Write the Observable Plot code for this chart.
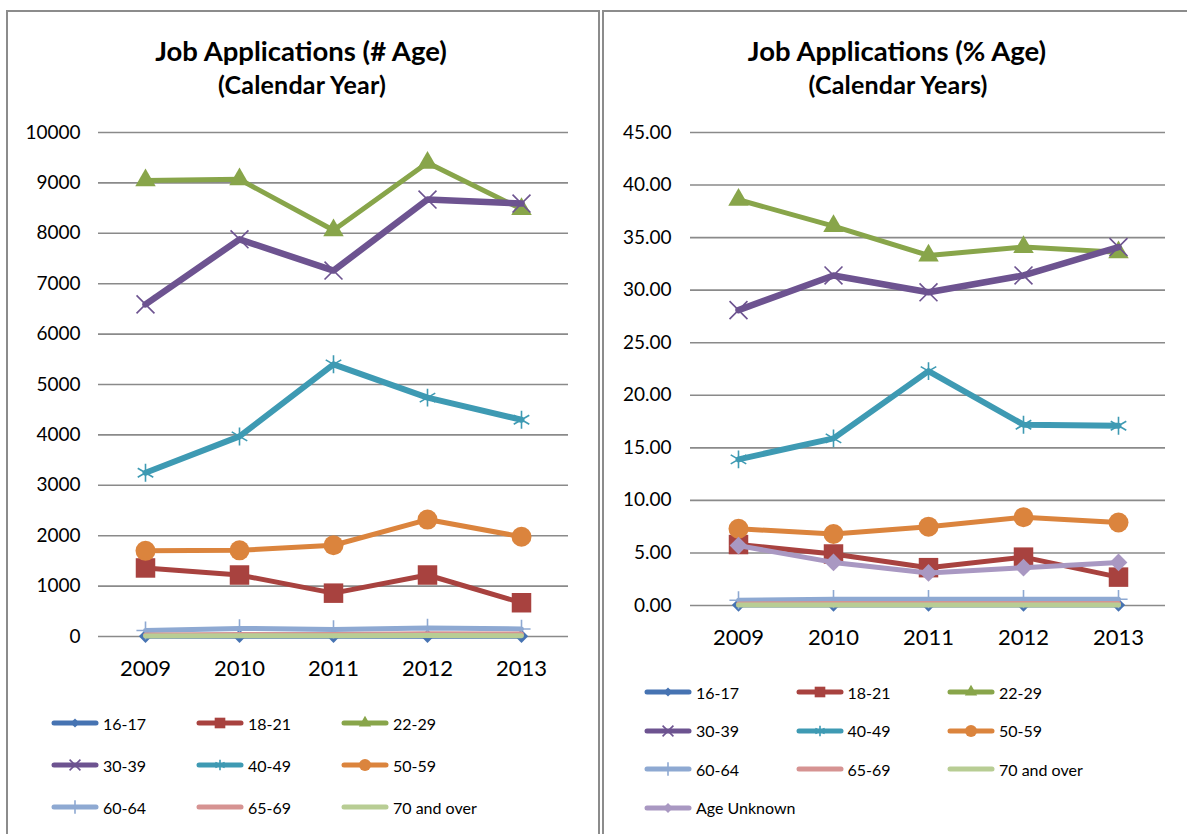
<!DOCTYPE html>
<html>
<head>
<meta charset="utf-8">
<script src="https://cdn.jsdelivr.net/npm/d3@7"></script>
<script src="https://cdn.jsdelivr.net/npm/@observablehq/plot@0.6"></script>
<style>
  html, body { margin: 0; padding: 0; background: #fff; }
  body { width: 1187px; height: 834px; position: relative; overflow: hidden; font-family: Lato, "Open Sans", sans-serif; color: #000; }
  .panel { position: absolute; box-sizing: border-box; border: 2px solid #8c8c8c; background: #fff; }
  .title { position: absolute; font-weight: bold; text-align: center; white-space: nowrap; transform: translateX(-50%); line-height: 1; }
  .chart { position: absolute; }
  .legend { position: absolute; display: grid; font-size: 16px; }
  .legend .item { display: flex; align-items: center; white-space: nowrap; }
  .legend svg { display: block; margin-right: 4px; }
</style>
</head>
<body>
<div class="panel" style="left:6px; top:10px; width:594px; height:900px;"></div>
<div class="panel" style="left:602px; top:10px; width:640px; height:900px;"></div>

<div class="title" style="left:301px; top:37px; font-size:27.5px;">Job Applications (# Age)</div>
<div class="title" style="left:302px; top:72px; font-size:25px; letter-spacing:0.2px;">(Calendar Year)</div>
<div class="title" style="left:897px; top:37px; font-size:27.5px;">Job Applications (% Age)</div>
<div class="title" style="left:898px; top:72px; font-size:25px; letter-spacing:0.2px;">(Calendar Years)</div>

<div id="leftChart" class="chart" style="left:8px; top:100px;"></div>
<div id="rightChart" class="chart" style="left:604px; top:100px;"></div>
<div id="leftLegend" class="legend"></div>
<div id="rightLegend" class="legend"></div>

<script>
// ---------- DATA ----------
const years = ["2009", "2010", "2011", "2012", "2013"];
const seriesNames = ["16-17", "18-21", "22-29", "30-39", "40-49", "50-59", "60-64", "65-69", "70 and over", "Age Unknown"];

// Number of applications by age group
const cnt_16_17   = [5, 5, 5, 5, 5];
const cnt_18_21   = [1360, 1220, 860, 1220, 670];
const cnt_22_29   = [9050, 9070, 8060, 9400, 8480];
const cnt_30_39   = [6590, 7880, 7260, 8670, 8590];
const cnt_40_49   = [3250, 3970, 5400, 4740, 4300];
const cnt_50_59   = [1700, 1710, 1810, 2320, 1980];
const cnt_60_64   = [120, 160, 140, 170, 150];
const cnt_65_69   = [30, 40, 40, 55, 50];
const cnt_70_over = [10, 15, 15, 20, 15];

// Percentage of applications by age group
const pct_16_17   = [0.04, 0.04, 0.04, 0.04, 0.04];
const pct_18_21   = [5.8, 4.9, 3.6, 4.6, 2.7];
const pct_22_29   = [38.6, 36.1, 33.3, 34.1, 33.6];
const pct_30_39   = [28.1, 31.4, 29.8, 31.4, 34.1];
const pct_40_49   = [13.9, 15.9, 22.3, 17.2, 17.1];
const pct_50_59   = [7.3, 6.8, 7.5, 8.4, 7.9];
const pct_60_64   = [0.5, 0.6, 0.6, 0.6, 0.6];
const pct_65_69   = [0.15, 0.2, 0.2, 0.2, 0.2];
const pct_70_over = [0.05, 0.05, 0.05, 0.05, 0.05];
const pct_unknown = [5.7, 4.1, 3.1, 3.6, 4.1];

// Tick values
const countTicks = [0, 1000, 2000, 3000, 4000, 5000, 6000, 7000, 8000, 9000, 10000];
const pctTicks = [0, 5, 10, 15, 20, 25, 30, 35, 40, 45];

// ---------- STYLES ----------
const styles = {
  "16-17":       {color: "#4673B2", symbol: "diamond2", r: 6,   lr: 4,   filled: true,  w: 5},
  "18-21":       {color: "#A8423F", symbol: "square",   r: 11,  lr: 6,   filled: true,  w: 5},
  "22-29":       {color: "#88A54A", symbol: "triangle", r: 7.6, lr: 4.6, filled: true,  w: 5},
  "30-39":       {color: "#6D5390", symbol: "times",    r: 8.2, lr: 5,   filled: false, w: 6.5},
  "40-49":       {color: "#3E9AB3", symbol: "asterisk", r: 8.5, lr: 5,   filled: false, w: 6},
  "50-59":       {color: "#DB843D", symbol: "circle",   r: 10,  lr: 6,   filled: true,  w: 5},
  "60-64":       {color: "#8EA9D2", symbol: "plus",     r: 5.9, lr: 4.4, filled: false, w: 5},
  "65-69":       {color: "#D69392", symbol: null,       r: 0,   lr: 0,   filled: true,  w: 5},
  "70 and over": {color: "#B8CD94", symbol: null,       r: 0,   lr: 0,   filled: true,  w: 5},
  "Age Unknown": {color: "#A998C2", symbol: "diamond2", r: 8,   lr: 4.4, filled: true,  w: 5}
};

function table(names, arrays) {
  return names.map((name, i) => ({name, rows: years.map((y, j) => ({year: y, value: arrays[i][j]}))}));
}

const countSeries = table(seriesNames.slice(0, 9),
  [cnt_16_17, cnt_18_21, cnt_22_29, cnt_30_39, cnt_40_49, cnt_50_59, cnt_60_64, cnt_65_69, cnt_70_over]);
const pctSeries = table(seriesNames,
  [pct_16_17, pct_18_21, pct_22_29, pct_30_39, pct_40_49, pct_50_59, pct_60_64, pct_65_69, pct_70_over, pct_unknown]);

function makeChart(series, cfg) {
  const marks = [
    Plot.gridY({ticks: cfg.ticks, stroke: "#8a8a8a", strokeOpacity: 1, strokeWidth: 1.6}),
    Plot.axisY({ticks: cfg.ticks, tickSize: 0, tickPadding: cfg.yPad, fontSize: 19, tickFormat: cfg.fmt, label: null}),
    Plot.axisX({tickSize: 0, tickPadding: 24, fontSize: 22, label: null})
  ];
  for (const s of series) {
    const st = styles[s.name];
    marks.push(Plot.line(s.rows, {x: "year", y: "value", stroke: st.color, strokeWidth: st.w,
      strokeLinecap: "round", strokeLinejoin: "round"}));
    if (st.symbol) {
      marks.push(Plot.dot(s.rows, {x: "year", y: "value", symbol: st.symbol, r: st.r,
        fill: st.filled ? st.color : "none", stroke: st.color, strokeWidth: st.filled ? 0 : 1.6}));
    }
  }
  return Plot.plot({
    width: cfg.width, height: cfg.height,
    marginLeft: cfg.ml, marginRight: cfg.mr, marginTop: cfg.mt, marginBottom: cfg.mb,
    x: {type: "point", domain: years, padding: 0.5, label: null},
    y: {domain: cfg.domain, label: null},
    style: {fontFamily: "Lato, 'Open Sans', sans-serif", color: "#000", background: "transparent", overflow: "visible"},
    marks
  });
}

document.getElementById("leftChart").appendChild(makeChart(countSeries, {
  width: 590, height: 596, ml: 90, mr: 30, mt: 32, mb: 60,
  domain: [0, 10000], ticks: countTicks, fmt: d3.format("d"), yPad: 18
}));
document.getElementById("rightChart").appendChild(makeChart(pctSeries, {
  width: 583, height: 565, ml: 86, mr: 22, mt: 32, mb: 60,
  domain: [0, 45], ticks: pctTicks, fmt: d3.format(".2f"), yPad: 19
}));

// ---------- LEGENDS ----------
const symbolMap = {
  diamond2: d3.symbolDiamond2, square: d3.symbolSquare, triangle: d3.symbolTriangle,
  times: d3.symbolTimes, asterisk: d3.symbolAsterisk, circle: d3.symbolCircle, plus: d3.symbolPlus
};

function makeLegend(el, names, cfg) {
  el.style.left = cfg.left + "px";
  el.style.top = cfg.top + "px";
  el.style.gridTemplateColumns = `repeat(3, ${cfg.colW}px)`;
  el.style.gridAutoRows = cfg.rowH + "px";
  for (const name of names) {
    const st = styles[name];
    const item = d3.select(el).append("div").attr("class", "item");
    const svg = item.append("svg").attr("width", 48).attr("height", 20);
    svg.append("line").attr("x1", 3).attr("x2", 45).attr("y1", 10).attr("y2", 10)
      .attr("stroke", st.color).attr("stroke-width", 5).attr("stroke-linecap", "round");
    if (st.symbol) {
      svg.append("path")
        .attr("transform", "translate(24,10)")
        .attr("d", d3.symbol(symbolMap[st.symbol], Math.PI * st.lr * st.lr)())
        .attr("fill", st.filled ? st.color : "none")
        .attr("stroke", st.filled ? "none" : st.color)
        .attr("stroke-width", 1.6);
    }
    item.append("span").text(name);
  }
}

makeLegend(document.getElementById("leftLegend"), seriesNames.slice(0, 9),
  {left: 51, top: 702, colW: 145, rowH: 42});
makeLegend(document.getElementById("rightLegend"), seriesNames,
  {left: 644, top: 673, colW: 151.5, rowH: 38.5});
</script>
</body>
</html>
